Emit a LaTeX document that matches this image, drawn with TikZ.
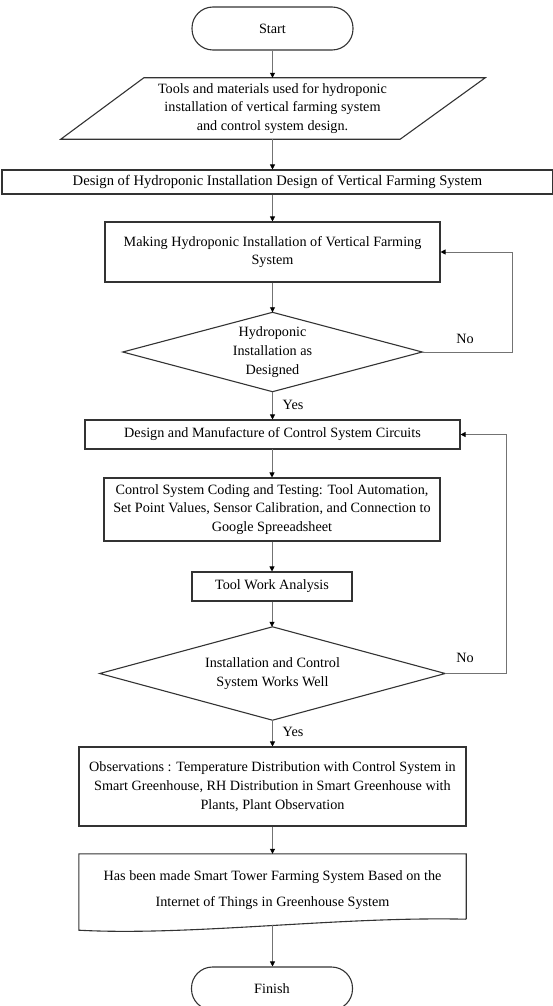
\documentclass[tikz,border=0pt]{standalone}
\usepackage{fontspec}
\setmainfont{Liberation Serif}
\usetikzlibrary{arrows.meta,calc}
\begin{document}
\begin{tikzpicture}[x=1pt,y=-1pt,
  every node/.style={font=\fontsize{14.2}{18.8}\selectfont, align=center, inner sep=0pt},
  box/.style={rectangle, draw=black!80, line width=1.1pt},
  shapeline/.style={draw=black!80, line width=1.1pt},
  ghost/.style={rectangle, draw=none},
  arr/.style={draw=black!55, line width=0.8pt, -{Triangle[length=5pt,width=5pt,color=black]}},
  term/.style={box, rounded corners=21pt, minimum width=161pt, minimum height=43pt},
  lbl/.style={font=\fontsize{14.2}{17}\selectfont}
]
\useasboundingbox (0,0) rectangle (553,1006);

% nodes
\node[term] (start) at (272.5,28.5) {Start};

\node[ghost, minimum width=340pt, minimum height=61pt] (io) at (272.5,108.5)
  {Tools and materials used for hydroponic\\installation of vertical farming system\\and control system design.};
\draw[shapeline] ($(io.north west)+(41.5,0)$) -- ($(io.north east)+(42.5,0)$)
  -- ($(io.south east)+(-42.5,0)$) -- ($(io.south west)+(-41.5,0)$) -- cycle;

\node[box, minimum width=551pt, minimum height=24pt, font=\fontsize{14.6}{18.8}\selectfont] (design1) at (277.5,182)
  {Design of Hydroponic Installation Design of Vertical Farming System};

\node[box, minimum width=335pt, minimum height=60pt] (making) at (272.5,252)
  {Making Hydroponic Installation of Vertical Farming\\System};

\node[ghost, minimum width=299pt, minimum height=79pt] (d1) at (272.5,352)
  {Hydroponic\\Installation as\\Designed};
\draw[shapeline] (d1.north) -- (d1.east) -- (d1.south) -- (d1.west) -- cycle;

\node[box, minimum width=375pt, minimum height=29pt] (dm) at (272.5,434.5)
  {Design and Manufacture of Control System Circuits};

\node[box, minimum width=336pt, minimum height=63pt] (code) at (272,509.5)
  {Control System Coding and Testing: Tool Automation,\\Set Point Values, Sensor Calibration, and Connection to\\Google Spreeadsheet};

\node[box, minimum width=160pt, minimum height=29pt] (twa) at (272,586.5)
  {Tool Work Analysis};

\node[ghost, minimum width=345pt, minimum height=93pt] (d2) at (272.5,673.5)
  {Installation and Control\\System Works Well};
\draw[shapeline] (d2.north) -- (d2.east) -- (d2.south) -- (d2.west) -- cycle;

\node[box, minimum width=387pt, minimum height=79pt] (obs) at (272.5,786.5)
  {Observations : Temperature Distribution with Control System in\\Smart Greenhouse, RH Distribution in Smart Greenhouse with\\Plants, Plant Observation};

\node[ghost, minimum width=387pt, minimum height=72pt] (doc) at (272.5,890)
  {Has been made Smart Tower Farming System Based on the\\[7pt]Internet of Things in Greenhouse System};
\draw[shapeline] ($(doc.south east)+(0,-7)$) -- (doc.north east) -- (doc.north west)
  -- ($(doc.south west)+(0,4)$)
  .. controls ($(doc.south west)+(111,10)$) and ($(doc.south east)+(-126,-10)$) .. ($(doc.south east)+(0,-7)$);

\node[term] (finish) at (272,988.5) {Finish};

% labels
\node[lbl] (no1) at (465,339) {No};
\node[lbl] (yes1) at (293,405) {Yes};
\node[lbl] (no2) at (465,658) {No};
\node[lbl] (yes2) at (293,732) {Yes};

% connectors
\draw[arr] (start.south) -- (start.south |- io.north);
\draw[arr] (io.south) -- (io.south |- design1.north);
\draw[arr] (design1.south -| making.north) -- (making.north);
\draw[arr] (making.south) -- (d1.north);
\draw[arr] (d1.south) -- (dm.north);
\draw[arr] (d1.east) -- ++(90,0) |- (making.east);
\draw[arr] (dm.south) -- (code.south |- dm.south) -- (code.north);
\draw[arr] (code.south) -- (twa.north);
\draw[arr] (twa.south) -- (d2.north -| twa.south);
\draw[arr] (d2.east) -- ++(61,0) |- (dm.east);
\draw[arr] (d2.south) -- (obs.north);
\draw[arr] (obs.south) -- (doc.north);
\draw[arr] ($(doc.south)+(0,-1)$) -- (finish.north -| doc.south);
\end{tikzpicture}
\end{document}
